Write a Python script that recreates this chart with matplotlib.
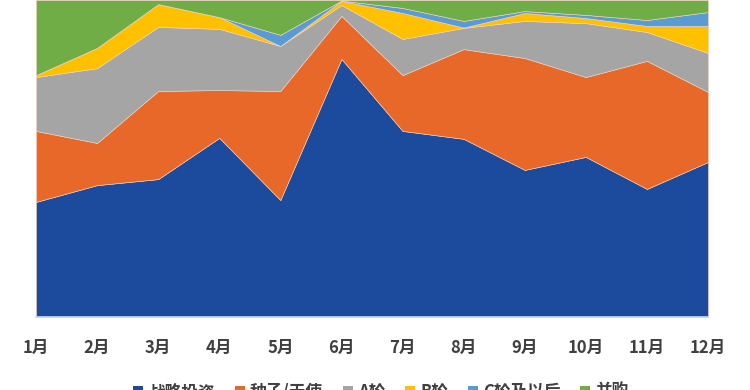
import numpy as np
import matplotlib
matplotlib.use("Agg")
from matplotlib import pyplot as plt
from matplotlib.patches import Patch

plt.rcParams['font.family'] = ['Noto Sans CJK SC', 'DejaVu Sans']

# month labels
months = ['1月', '2月', '3月', '4月', '5月', '6月', '7月', '8月', '9月', '10月', '11月', '12月']

# share of each round per month (percent)
strategic = [36.3, 41.6, 43.5, 56.5, 36.9, 81.4, 58.7, 56.2, 46.4, 50.5, 40.4, 48.9]
seed_angel = [22.4, 13.3, 27.8, 15.1, 34.4, 13.6, 17.6, 28.3, 35.3, 25.2, 40.4, 22.1]
round_a = [17.0, 23.6, 20.2, 19.3, 14.2, 3.4, 11.4, 6.7, 11.7, 17.0, 9.1, 12.3]
round_b = [0.6, 6.4, 7.2, 3.7, 0.0, 1.3, 8.2, 0.1, 2.5, 1.6, 1.9, 8.5]
round_c_plus = [0.0, 0.0, 0.0, 0.0, 3.5, 0.1, 1.6, 2.1, 0.6, 1.0, 1.9, 4.4]
merger = [23.7, 15.1, 1.3, 5.4, 11.0, 0.2, 2.5, 6.6, 3.5, 4.7, 6.3, 3.8]

labels = ['战略投资', '种子/天使', 'A轮', 'B轮', 'C轮及以后', '并购']
colors = ['#1C4A9C', '#E8682A', '#A5A5A5', '#FFC000', '#5B9BD5', '#70AD47']

fig = plt.figure(figsize=(7.5, 3.9), dpi=100)
ax = fig.add_axes([36/750, 1 - 317/390, 672/750, 317/390])

x = np.arange(len(months))
ax.stackplot(x, strategic, seed_angel, round_a, round_b, round_c_plus, merger,
             colors=colors, edgecolor='#F2D3C0', linewidth=0.4)

ax.set_xlim(0, len(months) - 1)
ax.set_ylim(0, 100)
ax.set_yticks([])
ax.set_xticks(x)
ax.set_xticklabels(months, fontsize=12, fontweight='bold', color='#404040')
ax.tick_params(axis='x', length=0, pad=16)
for side in ['top', 'right', 'left']:
	ax.spines[side].set_visible(False)
ax.spines['bottom'].set_color('#D0DCE8')
ax.spines['bottom'].set_linewidth(1.2)

# legend sits low, partly cut by the bottom edge as in the original
handles = [Patch(facecolor=c, label=l) for c, l in zip(colors, labels)]
fig.legend(handles=handles, loc='center', bbox_to_anchor=(0.508, -0.006), ncol=6,
		   frameon=False, handlelength=0.6, handleheight=0.6,
		   handletextpad=0.3, columnspacing=1.2,
		   prop={'weight': 'bold', 'size': 12})
for t in fig.legends[0].get_texts():
	t.set_color('#404040')

fig.savefig('out.png', dpi=100)
